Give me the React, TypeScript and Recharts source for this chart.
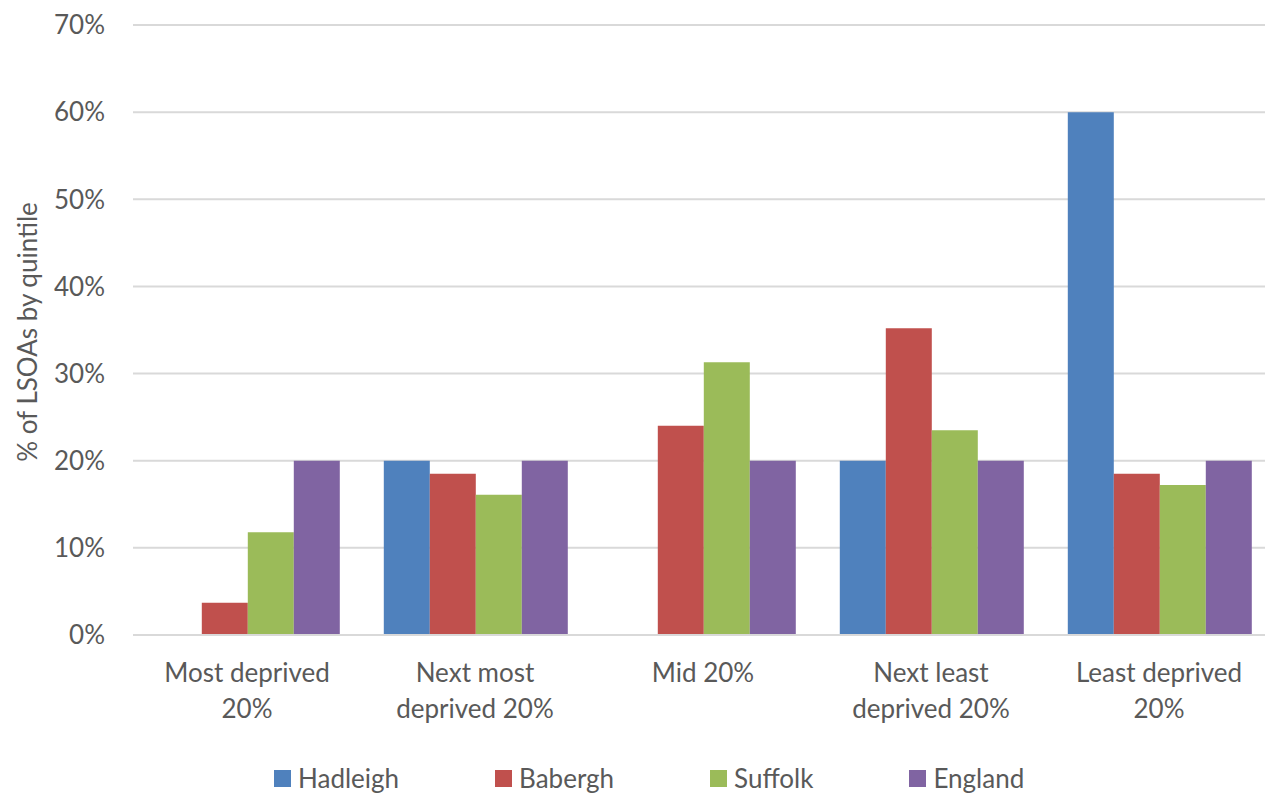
import React from "react";
import { BarChart, Bar, XAxis, YAxis, CartesianGrid, Legend } from "recharts";

if (typeof document !== "undefined") {
  document.body.style.margin = "0";
}

const quintiles = [
  "Most deprived\n20%",
  "Next most\ndeprived 20%",
  "Mid 20%",
  "Next least\ndeprived 20%",
  "Least deprived\n20%",
];

const hadleigh = [0, 20, 0, 20, 60];
const babergh = [3.7, 18.5, 24.0, 35.2, 18.5];
const suffolk = [11.8, 16.1, 31.3, 23.5, 17.2];
const england = [20, 20, 20, 20, 20];

const yTicks = [0, 10, 20, 30, 40, 50, 60, 70];

const series = [
  { key: "Hadleigh", color: "#4F81BD", values: hadleigh },
  { key: "Babergh", color: "#C0504D", values: babergh },
  { key: "Suffolk", color: "#9BBB59", values: suffolk },
  { key: "England", color: "#8064A2", values: england },
];

const data = quintiles.map((q, i) => {
  const row: Record<string, string | number> = { quintile: q };
  series.forEach((s) => (row[s.key] = s.values[i]));
  return row;
});

const FONT = "Lato, 'Open Sans', sans-serif";
const TEXT = "#595959";

function QuintileTick(props: any) {
  const { x, y, payload } = props;
  const lines = String(payload.value).split("\n");
  return (
    <text x={x} y={y} textAnchor="middle" fill={TEXT} fontSize={26} fontFamily={FONT}>
      {lines.map((ln, i) => (
        <tspan key={i} x={x} dy={i === 0 ? 47 : 36}>
          {ln}
        </tspan>
      ))}
    </text>
  );
}

function LegendBox() {
  return (
    <div
      style={{
        display: "flex",
        alignItems: "center",
        fontFamily: FONT,
        fontSize: 26,
        lineHeight: "30px",
        color: TEXT,
      }}
    >
      {series.map((s) => (
        <div key={s.key} style={{ display: "flex", alignItems: "center", marginRight: 96 }}>
          <span style={{ width: 17, height: 17, background: s.color, display: "inline-block", marginRight: 7 }} />
          <span>{s.key}</span>
        </div>
      ))}
    </div>
  );
}

export default function App() {
  return (
    <div style={{ width: 1265, height: 796, overflow: "hidden", background: "#fff", position: "relative" }}>
      <BarChart
        width={1273}
        height={796}
        data={data}
        margin={{ top: 25, right: 0, bottom: 16, left: 0 }}
        barCategoryGap="10%"
        barGap={0}
      >
        <CartesianGrid vertical={false} stroke="#D9D9D9" strokeWidth={2} />
        <XAxis
          dataKey="quintile"
          height={115}
          axisLine={{ stroke: "#D9D9D9", strokeWidth: 2 }}
          tickLine={false}
          tickSize={0}
          tickMargin={0}
          interval={0}
          tick={<QuintileTick />}
        />
        <YAxis
          width={133}
          domain={[0, 70]}
          ticks={yTicks}
          axisLine={false}
          tickLine={false}
          tickSize={0}
          tickMargin={28}
          tickFormatter={(v: number) => `${v}%`}
          tick={{ fill: TEXT, fontSize: 26, fontFamily: FONT }}
          label={{
            content: () => (
              <text
                x={27}
                y={332}
                transform="rotate(-90 27 332)"
                textAnchor="middle"
                dominantBaseline="central"
                fill={TEXT}
                fontSize={26}
                fontFamily={FONT}
              >
                % of LSOAs by quintile
              </text>
            ),
          }}
        />
        <Legend
          verticalAlign="bottom"
          content={() => <LegendBox />}
          wrapperStyle={{ position: "absolute", top: 763, left: 274, width: 1000, height: 30 }}
        />
        {series.map((s) => (
          <Bar key={s.key} dataKey={s.key} fill={s.color} isAnimationActive={false} />
        ))}
      </BarChart>
    </div>
  );
}
